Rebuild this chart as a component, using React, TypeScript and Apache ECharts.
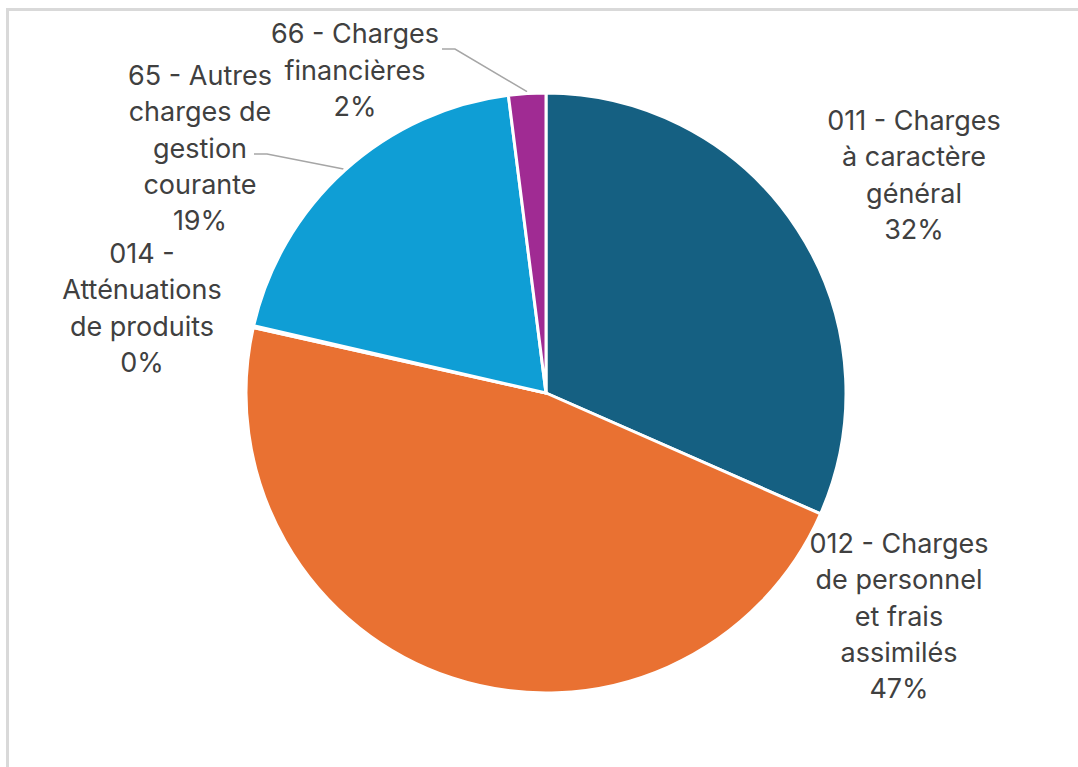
import { useEffect, useRef } from "react";
import * as echarts from "echarts";

const categories = [
  "011 - Charges à caractère général",
  "012 - Charges de personnel et frais assimilés",
  "014 - Atténuations de produits",
  "65 - Autres charges de gestion courante",
  "66 - Charges financières",
];
const labelTexts = [
  "011 - Charges\nà caractère\ngénéral",
  "012 - Charges\nde personnel\net frais\nassimilés",
  "014 -\nAtténuations\nde produits",
  "65 - Autres\ncharges de\ngestion\ncourante",
  "66 - Charges\nfinancières",
];
const values = [31.6, 46.9, 0.1, 19.4, 2.0];
const colors = ["#156082", "#E97132", "#196B24", "#0F9ED5", "#A02B93"];

// layout (label anchors / leader bends), not data
const CX = 546;
const CY = 393;
const R = 300;
const labelCenters: number[][] = [
  [914, 175],
  [899, 616],
  [142, 308],
  [200, 148],
  [355, 70],
];
const leaderBends: (number[][] | null)[] = [
  null,
  null,
  null,
  [
    [267, 154],
    [254, 154],
  ],
  [
    [455, 49],
    [442, 49],
  ],
];

export default function App() {
  const ref = useRef<HTMLDivElement>(null);
  useEffect(() => {
    if (!ref.current) return;
    const chart = echarts.init(ref.current, undefined, { renderer: "svg" });
    const total = values.reduce((a, b) => a + b, 0);
    const edgePoint = (i: number) => {
      let cum = 0;
      for (let k = 0; k < i; k++) cum += values[k];
      const th = (2 * Math.PI * (cum + values[i] / 2)) / total;
      const rr = R + 2;
      return [CX + rr * Math.sin(th), CY - rr * Math.cos(th)];
    };
    chart.setOption({
      animation: false,
      backgroundColor: "#ffffff",
      graphic: [
        { type: "rect", shape: { x: 6, y: 8, width: 3, height: 770 }, style: { fill: "#d9d9d9" } },
        { type: "rect", shape: { x: 6, y: 8, width: 1080, height: 3 }, style: { fill: "#d9d9d9" } },
      ],
      series: [
        {
          type: "pie",
          center: [CX, CY],
          radius: [0, R],
          startAngle: 90,
          clockwise: true,
          avoidLabelOverlap: false,
          itemStyle: { borderColor: "#ffffff", borderWidth: 3 },
          label: {
            show: true,
            position: "outside",
            color: "#404040",
            fontFamily: "Inter",
            fontSize: 27,
            lineHeight: 36.3,
            align: "center",
            formatter: (p: any) => labelTexts[p.dataIndex] + "\n" + Math.round(p.percent) + "%",
          },
          labelLine: {
            show: true,
            lineStyle: { color: "#a6a6a6", width: 1.5 },
          },
          labelLayout: (p: any) => {
            const i = p.dataIndex;
            const c = labelCenters[i];
            const out: any = { x: c[0], y: c[1], align: "center", verticalAlign: "middle" };
            const b = leaderBends[i];
            if (b) out.labelLinePoints = [edgePoint(i), b[0], b[1]];
            return out;
          },
          data: categories.map((name, i) => ({
            name,
            value: values[i],
            itemStyle: { color: colors[i] },
            labelLine: { show: leaderBends[i] != null },
          })),
        },
      ],
    });
    return () => chart.dispose();
  }, []);
  return (
    <div
      ref={ref}
      style={{ position: "absolute", left: 0, top: 0, width: 1078, height: 767 }}
    />
  );
}
